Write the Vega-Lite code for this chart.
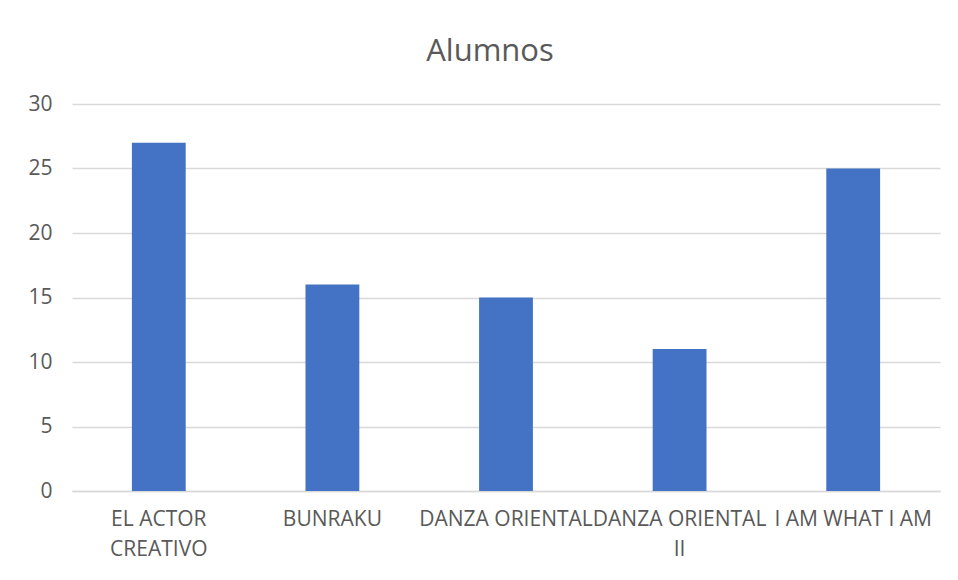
{
  "$schema": "https://vega.github.io/schema/vega-lite/v6.json",
  "autosize": {"type": "none"},
  "width": 868,
  "height": 387,
  "padding": {"left": 72, "top": 104, "right": 18, "bottom": 89},
  "background": "white",
  "title": {
    "text": "Alumnos",
    "font": "Open Sans",
    "fontSize": 31,
    "fontWeight": "normal",
    "color": "#595959",
    "anchor": "middle",
    "dx": -16,
    "offset": 25
  },
  "data": {
    "values": [
      {"curso": "EL ACTOR CREATIVO", "alumnos": 27},
      {"curso": "BUNRAKU", "alumnos": 16},
      {"curso": "DANZA ORIENTAL", "alumnos": 15},
      {"curso": "DANZA ORIENTAL II", "alumnos": 11},
      {"curso": "I AM WHAT I AM", "alumnos": 25}
    ]
  },
  "mark": {"type": "bar", "color": "#4472C4"},
  "encoding": {
    "x": {
      "field": "curso",
      "type": "nominal",
      "sort": null,
      "scale": {"paddingInner": 0.69, "paddingOuter": 0.345},
      "axis": {
        "title": null,
        "labelAngle": 0,
        "labelFont": "Open Sans",
        "labelFontSize": 21,
        "labelColor": "#595959",
        "labelPadding": 17,
        "labelLineHeight": 30,
        "labelBaseline": "top",
        "labelLimit": 0,
        "labelExpr": "datum.value == 'EL ACTOR CREATIVO' ? ['EL ACTOR', 'CREATIVO'] : datum.value == 'DANZA ORIENTAL II' ? ['DANZA ORIENTAL', 'II'] : datum.value",
        "ticks": false,
        "tickSize": 0,
        "domain": true,
        "domainColor": "#d9d9d9",
        "domainWidth": 1.5,
        "grid": false
      }
    },
    "y": {
      "field": "alumnos",
      "type": "quantitative",
      "scale": {"domain": [0, 30], "nice": false},
      "axis": {
        "title": null,
        "values": [0, 5, 10, 15, 20, 25, 30],
        "labelFont": "Open Sans",
        "labelFontSize": 21,
        "labelColor": "#595959",
        "labelPadding": 20,
        "ticks": false,
        "tickSize": 0,
        "domain": false,
        "grid": true,
        "gridColor": "#d9d9d9",
        "gridWidth": 1.5
      }
    }
  },
  "config": {
    "view": {"stroke": null}
  }
}
